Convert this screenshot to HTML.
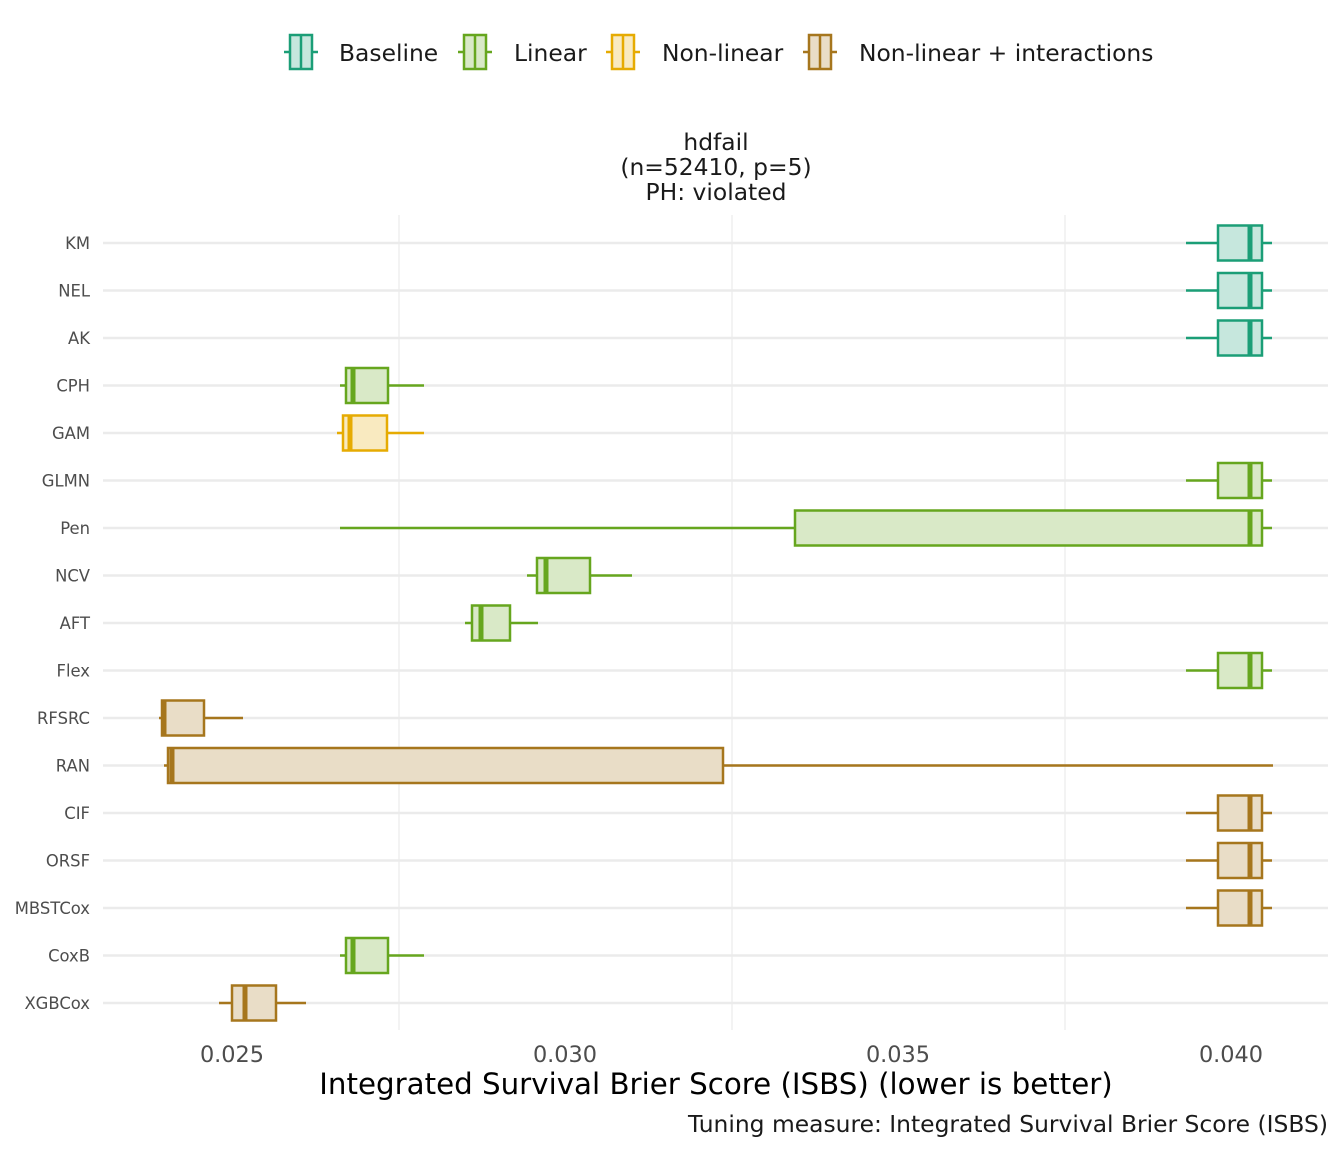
<!DOCTYPE html>
<html><head><meta charset="utf-8"><style>
body{margin:0;background:#fff}
svg{display:block;font-family:"DejaVu Sans","Liberation Sans",sans-serif}
</style></head><body>
<svg width="1344" height="1152" viewBox="0 0 1344 1152" xmlns="http://www.w3.org/2000/svg">
<rect width="1344" height="1152" fill="#fff"/>
<!-- legend -->
<g stroke-width="2.5">
<g stroke="#1b9e77"><line x1="284" y1="52" x2="318" y2="52"/><rect x="290" y="35" width="22" height="34" fill="#c6e7dd"/><line x1="301" y1="35" x2="301" y2="69"/></g>
<g stroke="#66a61e"><line x1="458" y1="52" x2="492" y2="52"/><rect x="464" y="35" width="22" height="34" fill="#d9e9c7"/><line x1="475" y1="35" x2="475" y2="69"/></g>
<g stroke="#e6ab02"><line x1="606" y1="52" x2="640" y2="52"/><rect x="612" y="35" width="22" height="34" fill="#f9eac0"/><line x1="623" y1="35" x2="623" y2="69"/></g>
<g stroke="#a6761d"><line x1="803" y1="52" x2="837" y2="52"/><rect x="809" y="35" width="22" height="34" fill="#e9ddc7"/><line x1="820" y1="35" x2="820" y2="69"/></g>
</g>
<g font-size="23.4" fill="#1a1a1a">
<text x="339" y="61">Baseline</text><text x="514" y="61">Linear</text><text x="662" y="61">Non-linear</text><text x="859" y="61">Non-linear + interactions</text>
</g>
<!-- title -->
<g font-size="23.4" fill="#1a1a1a" text-anchor="middle">
<text x="716" y="150">hdfail</text><text x="716" y="175">(n=52410, p=5)</text><text x="716" y="200">PH: violated</text>
</g>
<!-- grid -->
<g stroke="#ebebeb" stroke-width="1.2">
<line x1="399" y1="215" x2="399" y2="1030"/><line x1="732" y1="215" x2="732" y2="1030"/><line x1="1065" y1="215" x2="1065" y2="1030"/>
</g>
<g stroke="#ebebeb" stroke-width="2.4">
<line x1="103" x2="1328" y1="243" y2="243"/><line x1="103" x2="1328" y1="290.5" y2="290.5"/><line x1="103" x2="1328" y1="338" y2="338"/><line x1="103" x2="1328" y1="385.5" y2="385.5"/><line x1="103" x2="1328" y1="433" y2="433"/><line x1="103" x2="1328" y1="480.5" y2="480.5"/><line x1="103" x2="1328" y1="528" y2="528"/><line x1="103" x2="1328" y1="575.5" y2="575.5"/><line x1="103" x2="1328" y1="623" y2="623"/><line x1="103" x2="1328" y1="670.5" y2="670.5"/><line x1="103" x2="1328" y1="718" y2="718"/><line x1="103" x2="1328" y1="765.5" y2="765.5"/><line x1="103" x2="1328" y1="813" y2="813"/><line x1="103" x2="1328" y1="860.5" y2="860.5"/><line x1="103" x2="1328" y1="908" y2="908"/><line x1="103" x2="1328" y1="955.5" y2="955.5"/><line x1="103" x2="1328" y1="1003" y2="1003"/>
</g>
<!-- y labels -->
<g font-size="16.4" fill="#4d4d4d" text-anchor="end">
<text x="90" y="249">KM</text><text x="90" y="296.5">NEL</text><text x="90" y="344">AK</text><text x="90" y="391.5">CPH</text><text x="90" y="439">GAM</text><text x="90" y="486.5">GLMN</text><text x="90" y="534">Pen</text><text x="90" y="581.5">NCV</text><text x="90" y="629">AFT</text><text x="90" y="676.5">Flex</text><text x="90" y="724">RFSRC</text><text x="90" y="771.5">RAN</text><text x="90" y="819">CIF</text><text x="90" y="866.5">ORSF</text><text x="90" y="914">MBSTCox</text><text x="90" y="961.5">CoxB</text><text x="90" y="1009">XGBCox</text>
</g>
<!-- boxes -->
<g stroke-width="2.5">
<g stroke="#1b9e77" fill="#c6e7dd">
<line x1="1186" x2="1272" y1="243" y2="243"/><rect x="1218" y="225.5" width="44" height="35"/><line x1="1250" x2="1250" y1="225.5" y2="260.5" stroke-width="5"/>
<line x1="1186" x2="1272" y1="290.5" y2="290.5"/><rect x="1218" y="273" width="44" height="35"/><line x1="1250" x2="1250" y1="273" y2="308" stroke-width="5"/>
<line x1="1186" x2="1272" y1="338" y2="338"/><rect x="1218" y="320.5" width="44" height="35"/><line x1="1250" x2="1250" y1="320.5" y2="355.5" stroke-width="5"/>
</g>
<g stroke="#66a61e" fill="#d9e9c7">
<line x1="340" x2="424" y1="385.5" y2="385.5"/><rect x="346" y="368" width="42" height="35"/><line x1="353" x2="353" y1="368" y2="403" stroke-width="5"/>
<line x1="1186" x2="1272" y1="480.5" y2="480.5"/><rect x="1218" y="463" width="44" height="35"/><line x1="1250" x2="1250" y1="463" y2="498" stroke-width="5"/>
<line x1="340" x2="1272" y1="528" y2="528"/><rect x="795" y="510.5" width="467" height="35"/><line x1="1250" x2="1250" y1="510.5" y2="545.5" stroke-width="5"/>
<line x1="527" x2="632" y1="575.5" y2="575.5"/><rect x="537" y="558" width="53" height="35"/><line x1="546" x2="546" y1="558" y2="593" stroke-width="5"/>
<line x1="465" x2="538" y1="623" y2="623"/><rect x="472" y="605.5" width="38" height="35"/><line x1="481" x2="481" y1="605.5" y2="640.5" stroke-width="5"/>
<line x1="1186" x2="1272" y1="670.5" y2="670.5"/><rect x="1218" y="653" width="44" height="35"/><line x1="1250" x2="1250" y1="653" y2="688" stroke-width="5"/>
<line x1="340" x2="424" y1="955.5" y2="955.5"/><rect x="346" y="938" width="42" height="35"/><line x1="353" x2="353" y1="938" y2="973" stroke-width="5"/>
</g>
<g stroke="#e6ab02" fill="#f9eac0">
<line x1="337" x2="424" y1="433" y2="433"/><rect x="343" y="415.5" width="44" height="35"/><line x1="350" x2="350" y1="415.5" y2="450.5" stroke-width="5"/>
</g>
<g stroke="#a6761d" fill="#e9ddc7">
<line x1="159" x2="243" y1="718" y2="718"/><rect x="162" y="700.5" width="42" height="35"/><line x1="164" x2="164" y1="700.5" y2="735.5" stroke-width="5"/>
<line x1="164" x2="1273" y1="765.5" y2="765.5"/><rect x="168" y="748" width="555" height="35"/><line x1="172" x2="172" y1="748" y2="783" stroke-width="5"/>
<line x1="1186" x2="1272" y1="813" y2="813"/><rect x="1218" y="795.5" width="44" height="35"/><line x1="1250" x2="1250" y1="795.5" y2="830.5" stroke-width="5"/>
<line x1="1186" x2="1272" y1="860.5" y2="860.5"/><rect x="1218" y="843" width="44" height="35"/><line x1="1250" x2="1250" y1="843" y2="878" stroke-width="5"/>
<line x1="1186" x2="1272" y1="908" y2="908"/><rect x="1218" y="890.5" width="44" height="35"/><line x1="1250" x2="1250" y1="890.5" y2="925.5" stroke-width="5"/>
<line x1="219" x2="306" y1="1003" y2="1003"/><rect x="232" y="985.5" width="44" height="35"/><line x1="245" x2="245" y1="985.5" y2="1020.5" stroke-width="5"/>
</g>
</g>
<!-- x axis -->
<g font-size="22.4" fill="#4d4d4d" text-anchor="middle">
<text x="232" y="1062">0.025</text><text x="565" y="1062">0.030</text><text x="898" y="1062">0.035</text><text x="1231" y="1062">0.040</text>
</g>
<text x="716" y="1094" font-size="29.3" fill="#000" text-anchor="middle">Integrated Survival Brier Score (ISBS) (lower is better)</text>
<text x="1328" y="1132" font-size="23.4" fill="#1a1a1a" text-anchor="end">Tuning measure: Integrated Survival Brier Score (ISBS)</text>
</svg>
</body></html>
